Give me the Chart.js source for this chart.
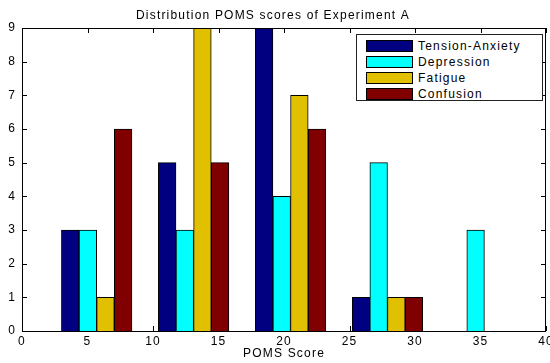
<!DOCTYPE html>
<html lang="en">
<head>
<meta charset="UTF-8">
<title>Distribution POMS scores of Experiment A</title>
<script src="https://cdn.jsdelivr.net/npm/chart.js@4.4.1/dist/chart.umd.min.js"></script>
<style>
  body { margin: 0; background: #fff; }
  #wrap { position: relative; width: 550px; height: 363px; }
  #legend {
    position: absolute; left: 356px; top: 34px; width: 187px; height: 67px;
    box-sizing: border-box; border: 1px solid #222; background: #fff;
    font: 12px "Liberation Sans", Arial, sans-serif; letter-spacing: 1.2px; color: #000;
    padding-top: 3px;
  }
  .row { height: 16px; display: flex; align-items: center; }
  .sw { width: 45px; height: 10px; border: 1px solid #000; margin-left: 9px; margin-right: 5px; }
</style>
</head>
<body>
<div id="wrap">
  <canvas id="myChart" width="550" height="363"></canvas>
  <div id="legend"></div>
</div>
<script>
  // bin centres (POMS score) and counts per scale
  const binCenters = [5.7, 13.1, 20.5, 27.9, 35.3];
  const tensionAnxiety = [3, 5, 9, 1, 0];
  const depression = [3, 3, 4, 5, 3];
  const fatigue = [1, 9, 7, 1, 0];
  const confusion = [6, 5, 6, 1, 0];

  const seriesNames = ["Tension-Anxiety", "Depression", "Fatigue", "Confusion"];
  const seriesColors = ["#000080", "#00ffff", "#e0c000", "#800000"];
  const seriesValues = [tensionAnxiety, depression, fatigue, confusion];

  const xTicks = [0, 5, 10, 15, 20, 25, 30, 35, 40];
  const yTicks = [0, 1, 2, 3, 4, 5, 6, 7, 8, 9];

  const FONT = '"Liberation Sans", Arial, sans-serif';

  // matlab style box with inward ticks
  const boxPlugin = {
    id: 'box',
    beforeDraw(chart) {
      chart.ctx.letterSpacing = '1.2px';
    },
    beforeDatasetsDraw(chart) {
      const ctx = chart.ctx, a = chart.chartArea;
      const xs = chart.scales.x, ys = chart.scales.y;
      ctx.save();
      ctx.strokeStyle = '#000';
      ctx.lineWidth = 1;
      ctx.beginPath();
      xTicks.forEach(v => {
        const px = Math.round(xs.getPixelForValue(v)) + 0.5;
        ctx.moveTo(px, a.bottom); ctx.lineTo(px, a.bottom - 5);
        ctx.moveTo(px, a.top); ctx.lineTo(px, a.top + 5);
      });
      yTicks.forEach(v => {
        const py = Math.round(ys.getPixelForValue(v)) + 0.5;
        ctx.moveTo(a.left, py); ctx.lineTo(a.left + 5, py);
        ctx.moveTo(a.right, py); ctx.lineTo(a.right - 5, py);
      });
      ctx.stroke();
      ctx.restore();
    },
    afterDraw(chart) {
      const ctx = chart.ctx, a = chart.chartArea;
      ctx.save();
      ctx.strokeStyle = '#000';
      ctx.lineWidth = 1;
      ctx.strokeRect(Math.round(a.left) + 0.5, Math.round(a.top) + 0.5,
                     Math.round(a.right - a.left) - 1, Math.round(a.bottom - a.top));
      ctx.restore();
    }
  };

  const datasets = seriesNames.map((name, i) => ({
    label: name,
    data: binCenters.map((c, j) => ({ x: c, y: seriesValues[i][j] })),
    backgroundColor: seriesColors[i],
    borderColor: '#000',
    borderWidth: 1,
    barThickness: 'flex',
    categoryPercentage: 4 / 5.5,
    barPercentage: 1
  }));

  const ctx = document.getElementById("myChart").getContext("2d");
  const myChart = new Chart(ctx, {
    type: 'bar',
    data: { datasets: datasets },
    options: {
      responsive: false,
      animation: false,
      layout: { padding: { left: 0, right: 4, top: 0, bottom: 0 } },
      plugins: {
        legend: { display: false },
        tooltip: { enabled: false },
        title: {
          display: true,
          text: 'Distribution POMS scores of Experiment A',
          color: '#000',
          font: { family: FONT, size: 12, weight: 'normal', lineHeight: 1.2 },
          padding: { top: 8, bottom: 5.6 }
        }
      },
      scales: {
        x: {
          type: 'linear',
          min: 0, max: 40,
          offset: false,
          grid: { display: false, drawTicks: false },
          border: { display: false },
          ticks: { stepSize: 5, padding: 3, color: '#000', font: { family: FONT, size: 12 } },
          title: {
            display: true, text: 'POMS Score', color: '#000',
            font: { family: FONT, size: 12, lineHeight: 1.2 },
            padding: { top: 0, bottom: 2 }
          },
          afterFit(s) { s.height = 32; s.paddingLeft = 0; s.paddingRight = 0; }
        },
        y: {
          min: 0, max: 9,
          grid: { display: false, drawTicks: false },
          border: { display: false },
          ticks: { stepSize: 1, padding: 6, color: '#000', font: { family: FONT, size: 12 } },
          afterFit(s) { s.width = 22; s.paddingTop = 0; s.paddingBottom = 0; }
        }
      }
    },
    plugins: [boxPlugin]
  });

  // legend
  const legend = document.getElementById('legend');
  seriesNames.forEach((name, i) => {
    const row = document.createElement('div');
    row.className = 'row';
    row.innerHTML = '<div class="sw" style="background:' + seriesColors[i] + '"></div><span>' + name + '</span>';
    legend.appendChild(row);
  });
</script>
</body>
</html>
